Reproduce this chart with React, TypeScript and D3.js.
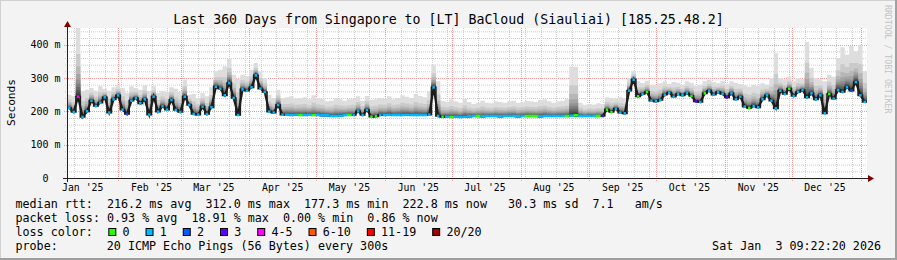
import React from "react";
import * as d3 from "d3";

const DAY = 86400000;
const START = Date.UTC(2025, 0, 8, 22, 0, 0);
const END = START + 360 * DAY;
const STEP = 2 * DAY;

// median rtt (ms), one value per 2 days
const medianMs = [
  210, 198, 244, 183, 200, 232, 216, 226, 242, 196,
  236, 248, 205, 192, 232, 240, 224, 236, 190, 244,
  199, 215, 205, 234, 204, 198, 244, 219, 192, 190,
  214, 192, 212, 274, 268, 248, 285, 240, 189, 266,
  262, 272, 308, 268, 258, 199, 196, 219, 190, 190,
  189, 190, 189, 189, 190, 189, 189, 188, 188, 186,
  186, 187, 189, 189, 189, 200, 189, 204, 184, 185,
  189, 189, 190, 189, 189, 189, 190, 189, 189, 189,
  189, 190, 272, 186, 183, 184, 183, 184, 183, 184,
  185, 186, 186, 185, 186, 186, 186, 185, 186, 186,
  186, 185, 186, 186, 186, 186, 185, 186, 186, 186,
  186, 186, 186, 187, 188, 186, 186, 186, 186, 186,
  186, 205, 198, 208, 196, 194, 262, 295, 245, 252,
  258, 232, 230, 234, 250, 256, 244, 252, 248, 254,
  246, 230, 228, 254, 262, 250, 258, 252, 242, 254,
  236, 244, 214, 210, 216, 212, 236, 248, 232, 209,
  262, 252, 268, 246, 258, 264, 242, 254, 236, 248,
  194, 252, 238, 264, 258, 272, 262, 288, 248, 228,
];

// top of the smoke (slowest ping, ms), one value per 2 days
const smokeTopMs = [
  250, 245, 450, 260, 265, 270, 262, 275, 268, 262,
  272, 278, 270, 255, 275, 270, 265, 278, 262, 275,
  255, 262, 258, 272, 268, 258, 295, 250, 252, 240,
  255, 245, 272, 320, 325, 335, 358, 310, 298, 310,
  305, 325, 345, 320, 300, 250, 240, 265, 240, 242,
  245, 238, 240, 242, 236, 248, 240, 238, 230, 232,
  240, 236, 232, 236, 238, 245, 232, 246, 235, 236,
  240, 238, 245, 236, 240, 248, 244, 240, 252, 246,
  242, 260, 340, 290, 232, 228, 236, 230, 226, 238,
  228, 222, 226, 232, 226, 224, 230, 228, 226, 230,
  232, 226, 228, 232, 230, 228, 234, 236, 230, 226,
  230, 232, 236, 334, 334, 226, 218, 222, 220, 224,
  222, 242, 240, 238, 242, 240, 300, 320, 290, 285,
  292, 280, 278, 284, 290, 282, 288, 286, 280, 290,
  286, 276, 280, 290, 294, 288, 284, 292, 282, 290,
  286, 282, 278, 274, 280, 276, 284, 280, 300, 374,
  300, 296, 304, 290, 300, 296, 409, 330, 300, 296,
  290, 310, 304, 360, 392, 370, 396, 380, 398, 320,
];

// loss class per point (index into lossColors)
const lossClass = [
  1, 1, 4, 1, 1, 1, 1, 1, 1, 1,
  1, 1, 1, 2, 1, 1, 1, 1, 1, 1,
  1, 1, 1, 1, 1, 1, 1, 1, 1, 1,
  1, 1, 1, 1, 1, 1, 1, 1, 1, 1,
  1, 1, 1, 1, 1, 1, 1, 1, 1, 1,
  1, 1, 0, 1, 1, 0, 1, 1, 1, 1,
  1, 1, 1, 0, 1, 1, 1, 1, 0, 0,
  1, 1, 1, 1, 1, 1, 1, 1, 1, 1,
  1, 1, 1, 1, 0, 1, 0, 1, 1, 1,
  1, 1, 0, 1, 1, 1, 1, 1, 1, 1,
  1, 1, 1, 0, 0, 0, 1, 1, 1, 1,
  1, 1, 0, 1, 0, 1, 1, 1, 1, 0,
  3, 0, 0, 1, 1, 1, 1, 1, 0, 1,
  0, 1, 1, 1, 1, 1, 1, 1, 1, 1,
  0, 3, 1, 0, 1, 1, 1, 1, 3, 1,
  1, 1, 1, 0, 1, 1, 1, 1, 1, 1,
  1, 1, 0, 1, 1, 1, 1, 1, 1, 1,
  1, 0, 1, 1, 1, 1, 2, 1, 1, 1,
];

const lossColors = ["#26ff00", "#00b8ff", "#0059ff", "#5e00ff", "#ff00ff", "#ff5500", "#ff0000", "#a00000"];
const lossLabels = ["0", "1", "2", "3", "4-5", "6-10", "11-19", "20/20"];

const yTickValues = [0, 100, 200, 300, 400];
const yTickLabels = ["0", "100 m", "200 m", "300 m", "400 m"];
const monthLabels = ["Jan '25", "Feb '25", "Mar '25", "Apr '25", "May '25", "Jun '25", "Jul '25", "Aug '25", "Sep '25", "Oct '25", "Nov '25", "Dec '25"];

const titleText = "Last 360 Days from Singapore to [LT] BaCloud (Siauliai) [185.25.48.2]";
const legendMedian = "median rtt:  216.2 ms avg  312.0 ms max  177.3 ms min  222.8 ms now   30.3 ms sd  7.1   am/s";
const legendLoss = "packet loss: 0.93 % avg  18.91 % max  0.00 % min  0.86 % now";
const probeText = "20 ICMP Echo Pings (56 Bytes) every 300s";
const stampText = "Sat Jan  3 09:22:20 2026";

const MONO = "'DejaVu Sans Mono', monospace";

export default function App() {
  const W = 897;
  const H = 260;
  const L = 67, R = 867, T = 28, B = 178;
  const x = d3.scaleUtc().domain([new Date(START), new Date(END)]).range([L, R]);
  const y = d3.scaleLinear().domain([0, 450]).range([B, T]);

  const pts = medianMs.map((m, i) => ({ t: START + i * STEP, m, top: smokeTopMs[i] }));
  const closed = [...pts, { ...pts[pts.length - 1], t: END }];

  // smoke bands: outermost (lightest) first, darker ones hug the median
  const fractions = [1.0, 0.62, 0.44, 0.33, 0.25, 0.19, 0.14, 0.1, 0.065, 0.035];
  const bands = fractions.map((f, k) => {
    const c = Math.floor((190 / 10) * (10 - (k + 1))) + 50;
    const path = d3
      .area<any>()
      .curve(d3.curveStepAfter)
      .x((p) => x(new Date(p.t)))
      .y0((p) => y(p.m))
      .y1((p) => y(p.m + (p.top - p.m) * f))(closed);
    return { path: path || "", color: `rgb(${c},${c},${c})` };
  });

  const minorY = d3.range(20, 450, 20).filter((v) => v % 100 !== 0);
  const majorY = [100, 200, 300, 400];
  const weeks = d3.utcSunday.range(new Date(START), new Date(END));
  const months = d3.utcMonth.range(new Date(START), new Date(END));
  const monthFloors = d3.utcMonth.range(d3.utcMonth.floor(new Date(START)), new Date(END));

  // dark median traces (where the median jumps, the dark core shows)
  const trace = d3
    .line<any>()
    .x((p) => x(new Date(p.t + STEP / 2)))
    .y((p) => y(p.m))(pts) || "";
  const stepTrace = d3
    .line<any>()
    .curve(d3.curveStepAfter)
    .x((p) => x(new Date(p.t)))
    .y((p) => y(p.m))(closed) || "";

  const marks = medianMs.map((m, i) => {
    const prev = i > 0 ? medianMs[i - 1] : m;
    const next = i < medianMs.length - 1 ? medianMs[i + 1] : m;
    const vol = Math.abs(m - prev) >= 3 || Math.abs(next - m) >= 3;
    const x0 = x(new Date(START + i * STEP));
    const x1 = x(new Date(START + (i + 1) * STEP));
    const col = lossColors[lossClass[i]];
    if (vol) {
      return <rect key={"m" + i} x={(x0 + x1) / 2 - 1.2} y={y(m) - 1.3} width={2.4} height={2.6} fill={col} />;
    }
    return <rect key={"m" + i} x={x0} y={y(m) - 1.3} width={x1 - x0 + 0.3} height={2.6} fill={col} />;
  });

  const charW = 7.03;
  let bx = 108.3;
  const boxes = lossLabels.map((lab, i) => {
    const x0 = bx;
    bx += 14.4 + lab.length * charW + 15.8;
    return (
      <g key={"lb" + i}>
        <rect x={x0 + 0.5} y={228.5} width={7} height={7} fill={lossColors[i]} stroke="#000" strokeWidth={1} />
        <text x={x0 + 14.2} y={235.9} fontSize={11.7} fontFamily={MONO} fill="#000">{lab}</text>
      </g>
    );
  });

  return (
    <svg width={W} height={H} viewBox={`0 0 ${W} ${H}`} style={{ position: "absolute", left: 0, top: 0, display: "block" }}>
      <rect x={0} y={0} width={W} height={H} fill="#f3f3f3" />
      <path d={`M0,${H} L0,0 L${W},0`} fill="none" stroke="#d0d0d0" strokeWidth={2} />
      <path d={`M0,${H - 1} L${W - 1},${H - 1} L${W - 1},0`} fill="none" stroke="#a0a0a0" strokeWidth={2} />
      <rect x={L} y={T} width={R - L} height={B - T} fill="#ffffff" />

      {/* grid */}
      {minorY.map((v) => (
        <line key={"hy" + v} x1={L - 2} x2={R} y1={y(v) + 0.5} y2={y(v) + 0.5} stroke="#cccccc" strokeDasharray="1,1" />
      ))}
      {weeks.map((d, i) => (
        <line key={"wx" + i} x1={Math.round(x(d)) + 0.5} x2={Math.round(x(d)) + 0.5} y1={T} y2={B + 2} stroke="#cccccc" strokeDasharray="1,1" />
      ))}
      {majorY.map((v) => (
        <line key={"My" + v} x1={L - 3} x2={R} y1={Math.round(y(v)) + 0.5} y2={Math.round(y(v)) + 0.5} stroke="#ee9a9a" strokeDasharray="1,1" />
      ))}
      {months.map((d, i) => (
        <line key={"Mx" + i} x1={Math.round(x(d)) + 0.5} x2={Math.round(x(d)) + 0.5} y1={T} y2={B + 3} stroke="#ee9a9a" strokeDasharray="1,1" />
      ))}

      {/* smoke */}
      {bands.map((b, k) => (
        <path key={"s" + k} d={b.path} fill={b.color} />
      ))}
      <path d={stepTrace} fill="none" stroke="#1c1c1c" strokeWidth={1.6} />
      <path d={trace} fill="none" stroke="#1c1c1c" strokeWidth={2.2} strokeLinejoin="miter" />
      {marks}

      {/* axes */}
      <line x1={L - 4} x2={R + 2} y1={B + 0.5} y2={B + 0.5} stroke="#202020" strokeWidth={1} />
      <line x1={L + 0.5} x2={L + 0.5} y1={B + 4} y2={T - 3} stroke="#202020" strokeWidth={1} />
      <path d={`M${R + 1},${B - 3} L${R + 1},${B + 4} L${R + 7},${B + 0.5} Z`} fill="#7f0000" />
      <path d={`M${L - 3},${T - 1} L${L + 4},${T - 1} L${L + 0.5},${T - 7} Z`} fill="#7f0000" />

      {/* y tick labels */}
      {yTickValues.map((v, i) => (
        <text key={"yl" + v} x={v === 0 ? 48.5 : 60.5} y={y(v) + 3.8} fontSize={10} fontFamily={MONO} textAnchor="end" fill="#000">
          {yTickLabels[i]}
        </text>
      ))}

      {/* x labels */}
      {monthFloors.map((d, i) => {
        const c = x(new Date(d.getTime() + 15 * DAY));
        if (c < L || c > R) return null;
        const idx = d.getUTCMonth() + (d.getUTCFullYear() - 2025) * 12;
        return (
          <text key={"xl" + i} x={c} y={190.8} fontSize={9.8} fontFamily={MONO} textAnchor="middle" fill="#000">
            {monthLabels[idx]}
          </text>
        );
      })}

      {/* title */}
      <text x={448.5} y={24} fontSize={13.25} fontFamily={MONO} textAnchor="middle" fill="#000" style={{ whiteSpace: "pre" }}>
        {titleText}
      </text>

      {/* y axis title */}
      <text transform="translate(15,102.5) rotate(-90)" fontSize={11.2} fontFamily={MONO} textAnchor="middle" fill="#000">
        Seconds
      </text>

      {/* watermark */}
      <text transform="translate(884.5,5) rotate(90)" fontSize={8.2} fontFamily={MONO} fill="#c4c4c4">
        RRDTOOL / TOBI OETIKER
      </text>

      {/* legend */}
      <text x={15.5} y={208.3} fontSize={11.7} fontFamily={MONO} fill="#000" style={{ whiteSpace: "pre" }} xmlSpace="preserve">
        {legendMedian}
      </text>
      <text x={15.5} y={222.1} fontSize={11.7} fontFamily={MONO} fill="#000" style={{ whiteSpace: "pre" }} xmlSpace="preserve">
        {legendLoss}
      </text>
      <text x={15.5} y={235.9} fontSize={11.7} fontFamily={MONO} fill="#000">loss color:</text>
      {boxes}
      <text x={15.5} y={249.7} fontSize={11.7} fontFamily={MONO} fill="#000">probe:</text>
      <text x={106.8} y={249.7} fontSize={11.7} fontFamily={MONO} fill="#000">{probeText}</text>
      <text x={881} y={249.7} fontSize={11.7} fontFamily={MONO} textAnchor="end" fill="#000" style={{ whiteSpace: "pre" }} xmlSpace="preserve">
        {stampText}
      </text>
    </svg>
  );
}
